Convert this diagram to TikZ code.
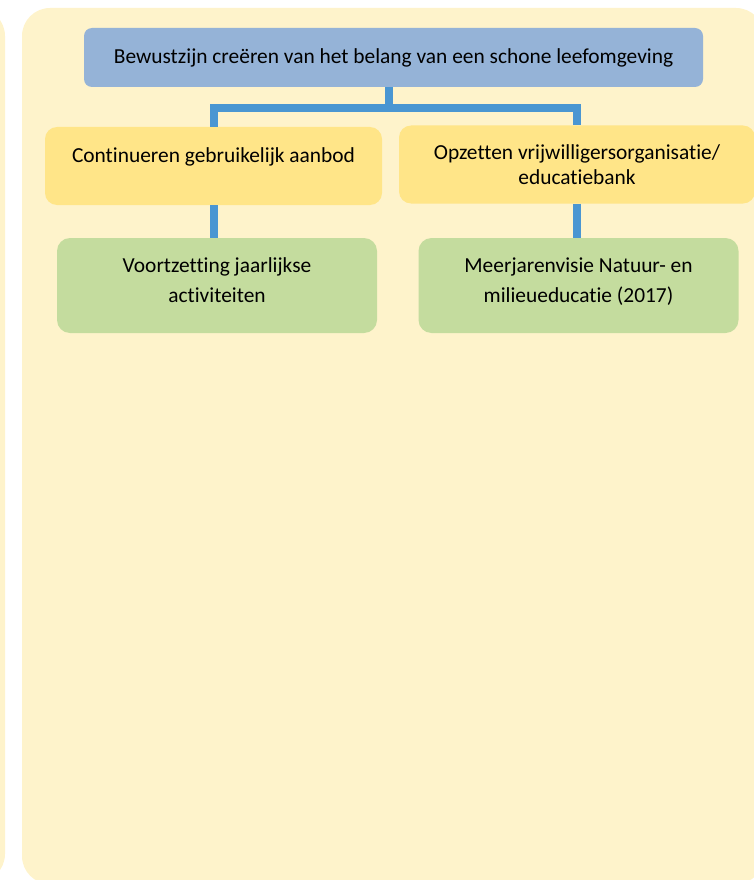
\documentclass[tikz,border=0pt]{standalone}
\usepackage{fontspec}
\setmainfont[Ligatures={NoCommon}]{Carlito}
\definecolor{panelbg}{RGB}{254,243,203}
\definecolor{goalblue}{RGB}{149,179,215}
\definecolor{actyellow}{RGB}{255,229,136}
\definecolor{projgreen}{RGB}{196,220,158}
\definecolor{linkblue}{RGB}{74,150,210}
\begin{document}
\begin{tikzpicture}[x=1pt,y=-1pt,
    goal/.style={fill=goalblue, rounded corners=8pt, minimum width=619pt, minimum height=59pt, inner sep=0pt, font=\fontsize{21.4}{25}\selectfont},
    action/.style={fill=actyellow, rounded corners=12pt, minimum height=78pt, inner sep=0pt, align=center, font=\fontsize{21.4}{25}\selectfont},
    project/.style={fill=projgreen, rounded corners=13pt, minimum width=320pt, minimum height=95pt, inner sep=0pt, align=center, font=\fontsize{21.4}{30}\selectfont},
    link/.style={draw=linkblue, line width=8pt, line join=miter}]
        \useasboundingbox (0,0) rectangle (754,880);
        \clip (0,0) rectangle (754,880);
        %Panels
        \fill[panelbg, rounded corners=28pt] (-40,8) rectangle (5,882);
        \fill[panelbg, rounded corners=28pt] (22,8) rectangle (764,884);
        %Goal
        \node[goal] (bew) at (393.5,57.5) 
        {Bewustzijn creëren van het belang van een schone leefomgeving};
        %Actions
        \node[action, minimum width=337pt, text height=14pt, text depth=22pt] (cont) at (213.5,166) 
        {Continueren gebruikelijk aanbod};
        \node[action, minimum width=356pt] (opz) at (577,164.5) 
        {Opzetten vrijwilligersorganisatie/\\educatiebank};
        %Projects
        \node[project, text depth=10pt] (jaar) at (217,285.5) 
        {Voortzetting jaarlijkse\\activiteiten};
        \node[project, text depth=10pt] (visie) at (578.5,285.5) 
        {Meerjarenvisie Natuur- en\\milieueducatie (2017)};
        %Links
        \coordinate (split) at ([xshift=-4.5pt]bew.south);
        \draw[link] (split) -- ++(0,21) coordinate (hub);
        \draw[link] (cont.north) |- (hub) -| (opz.north);
        \draw[link] (cont.south) -- (cont.south |- jaar.north);
        \draw[link] (opz.south) -- (opz.south |- visie.north);
    \end{tikzpicture}
\end{document}
